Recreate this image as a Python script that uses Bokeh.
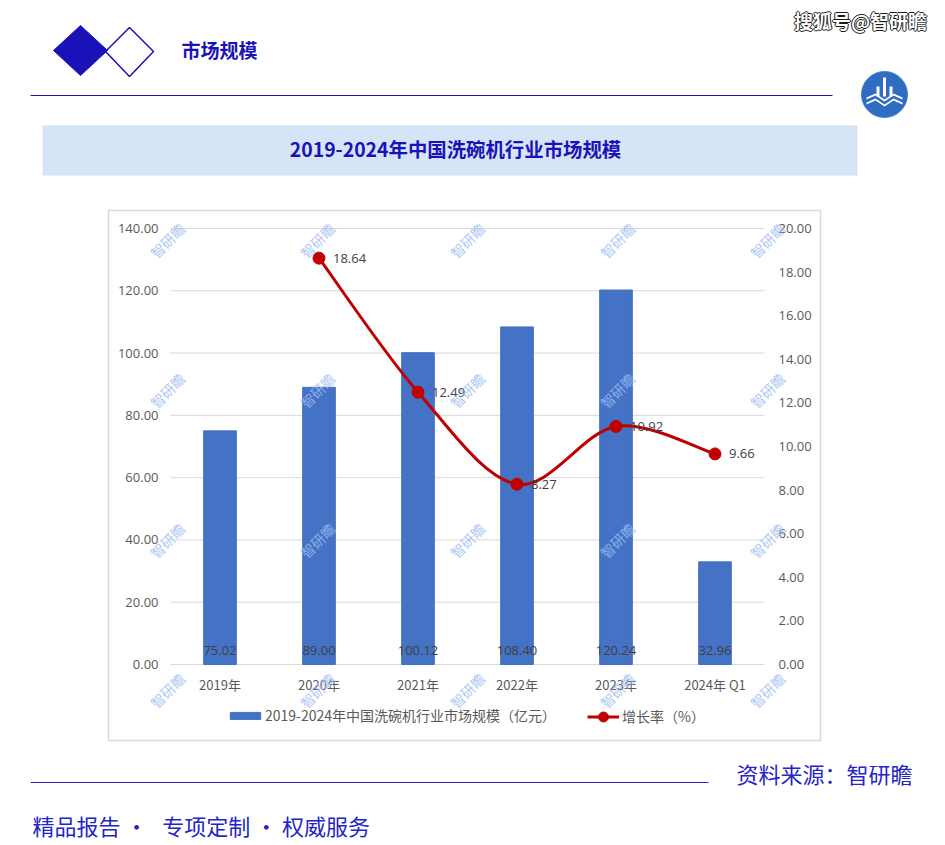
from bokeh.plotting import figure
from bokeh.models import Range1d, ColumnDataSource, Legend, LegendItem
from bokeh.embed import file_html
from bokeh.resources import INLINE
from bokeh.core.properties import value
import math

# ---------------- data ----------------
categories = ["2019年", "2020年", "2021年", "2022年", "2023年", "2024年 Q1"]
market_size = [75.02, 89.00, 100.12, 108.40, 120.24, 32.96]      # 亿元
growth_rate = [None, 18.64, 12.49, 8.27, 10.92, 9.66]             # %
left_ticks = [0, 20, 40, 60, 80, 100, 120, 140]
right_ticks = [0, 2, 4, 6, 8, 10, 12, 14, 16, 18, 20]
bar_series_name = "2019-2024年中国洗碗机行业市场规模（亿元）"
line_series_name = "增长率（%）"
chart_title = "2019-2024年中国洗碗机行业市场规模"
section_title = "市场规模"
source_text = "资料来源：智研瞻"
footer_text = "精品报告 •\u00a0\u00a0 专项定制 • 权威服务"
corner_mark = "搜狐号@智研瞻"
watermark = "智研瞻"

# ---------------- layout constants (page pixels) ----------------
W, H = 945, 845
FL, FT, FR, FB = 170, 228, 764, 664   # plot area edges
CJK = "Noto Sans CJK SC"
NUM = "Open Sans"
BLUE_DARK = "#1a12b8"
BLUE_TXT = "#2424c8"
GRAY_TXT = "#595959"

# whole canvas is the frame; the default ranges are page pixels (y downwards)
p = figure(width=W, height=H, output_backend="svg", toolbar_location=None,
           x_range=Range1d(0, W), y_range=Range1d(H, 0),
           x_axis_type=None, y_axis_type=None, min_border=0)
p.outline_line_color = None
p.background_fill_color = "white"
p.border_fill_color = "white"
p.xgrid.visible = False
p.ygrid.visible = False

# data scales mapped onto the plot area
n_cat = len(categories)
cat_lo, cat_hi = -0.5, n_cat - 0.5
ux = (FR - FL) / (cat_hi - cat_lo)
kv = (FB - FT) / (left_ticks[-1] - left_ticks[0])
kg = (FB - FT) / (right_ticks[-1] - right_ticks[0])
p.extra_x_ranges = {"cat": Range1d(cat_lo - FL / ux, cat_hi + (W - FR) / ux)}
p.extra_y_ranges = {
    "v": Range1d(left_ticks[0] - (H - FB) / kv, left_ticks[-1] + FT / kv),
    "g": Range1d(right_ticks[0] - (H - FB) / kg, right_ticks[-1] + FT / kg),
}
C = dict(x_range_name="cat", y_range_name="v")
G = dict(x_range_name="cat", y_range_name="g")

def txt(X, Y, text, **kw):
    p.text(x=[X], y=[Y], text=[text], **kw)

# chart box
p.quad(left=[108], right=[820], top=[210], bottom=[740], fill_color=None,
       line_color="#d9d9d9", line_width=1.5)

# gridlines + tick labels (through the data scales)
p.segment(x0=[cat_lo] * len(left_ticks), x1=[cat_hi] * len(left_ticks),
          y0=left_ticks, y1=left_ticks, line_color="#d9d9d9", line_width=1, **C)
p.text(x=[cat_lo] * len(left_ticks), y=left_ticks, text=[f"{t:.2f}" for t in left_ticks],
       x_offset=-12, text_align="right", text_baseline="middle", text_font_size="13px",
       text_color=GRAY_TXT, text_font=value(NUM), **C)
p.text(x=[cat_hi] * len(right_ticks), y=right_ticks, text=[f"{t:.2f}" for t in right_ticks],
       x_offset=14, text_align="left", text_baseline="middle", text_font_size="13px",
       text_color=GRAY_TXT, text_font=value(NUM), **G)

# bars
xs = list(range(n_cat))
bar_src = ColumnDataSource(dict(x=xs, top=market_size, base=[0] * n_cat,
                                label=[f"{v:.2f}" for v in market_size], cat=categories))
bars = p.vbar(x="x", top="top", bottom="base", width=0.33, source=bar_src,
              fill_color="#4472c4", line_color="#4472c4", **C)
p.text(x="x", y="base", text="cat", source=bar_src, y_offset=20,
       text_align="center", text_baseline="middle", text_font_size="13px",
       text_color=GRAY_TXT, text_font=value(CJK), **C)
p.text(x="x", y="base", text="label", source=bar_src, y_offset=-14,
       text_align="center", text_baseline="middle", text_font_size="13px",
       text_color="#404040", text_font=value(NUM), **C)

# growth line (smoothed with bezier segments built from the data points)
gx = [x for x, g in zip(xs, growth_rate) if g is not None]
gy = [g for g in growth_rate if g is not None]
n = len(gx)
seg = dict(x0=[], y0=[], x1=[], y1=[], cx0=[], cy0=[], cx1=[], cy1=[])
for i in range(n - 1):
    pm = max(i - 1, 0)
    pp = min(i + 2, n - 1)
    seg["x0"].append(gx[i]); seg["y0"].append(gy[i])
    seg["x1"].append(gx[i + 1]); seg["y1"].append(gy[i + 1])
    seg["cx0"].append(gx[i] + (gx[i + 1] - gx[pm]) / 6)
    seg["cy0"].append(gy[i] + (gy[i + 1] - gy[pm]) / 6)
    seg["cx1"].append(gx[i + 1] - (gx[pp] - gx[i]) / 6)
    seg["cy1"].append(gy[i + 1] - (gy[pp] - gy[i]) / 6)
curve = p.bezier(source=ColumnDataSource(seg), x0="x0", y0="y0", x1="x1", y1="y1",
                 cx0="cx0", cy0="cy0", cx1="cx1", cy1="cy1",
                 line_color="#c00000", line_width=3, **G)
g_src = ColumnDataSource(dict(x=gx, y=gy, label=[f"{v:.2f}" for v in gy]))
pts = p.scatter(x="x", y="y", source=g_src, size=12, fill_color="#c00000",
                line_color="#c00000", **G)
p.text(x="x", y="y", text="label", source=g_src, x_offset=14,
       text_align="left", text_baseline="middle", text_font_size="13px",
       text_color="#404040", text_font=value(NUM), **G)

# legend
legend_style = dict(orientation="horizontal", padding=0, margin=0, border_line_color=None,
                    background_fill_alpha=0, label_text_font=CJK, label_text_font_size="14px",
                    label_text_color=GRAY_TXT)
leg1 = Legend(items=[LegendItem(label=bar_series_name, renderers=[bars])],
              location=(226, H - 725), glyph_width=38, glyph_height=9,
              label_standoff=1, **legend_style)
leg2 = Legend(items=[LegendItem(label=line_series_name, renderers=[curve, pts])],
              location=(587, H - 728.5), glyph_width=32, glyph_height=25,
              label_standoff=3, **legend_style)
p.add_layout(leg1)
p.add_layout(leg2)

# ---------------- page decorations ----------------
# header
p.patch(x=[53, 80, 107, 80], y=[50, 25, 50, 75], fill_color=BLUE_DARK, line_color=BLUE_DARK)
p.patch(x=[105, 129, 153, 129], y=[51, 27, 51, 76], fill_color=None,
        line_color=BLUE_DARK, line_width=1.5)
txt(181, 49, section_title, text_align="left", text_baseline="middle",
    text_font=value(CJK), text_font_size="19px", text_font_style="bold", text_color=BLUE_DARK)
p.segment(x0=[30], x1=[832], y0=[95], y1=[95], line_color=BLUE_DARK, line_width=1)

# logo
p.circle(x=[884], y=[94], radius=23, fill_color="#2e6dc2", line_color="#3d82d4")
p.quad(left=[882.5, 876, 889], right=[885.5, 879, 892], top=[77, 86, 86], bottom=[96, 96, 96],
       fill_color="white", line_color=None)
p.patches(xs=[[866, 875, 884, 893, 902, 902, 893, 884, 875, 866],
              [866, 875, 884, 893, 902, 902, 893, 884, 875, 866]],
          ys=[[97, 93, 99, 93, 97, 99, 95, 101, 95, 99],
              [102, 98, 104, 98, 102, 104, 100, 106, 100, 104]],
          fill_color="white", line_color=None)

# corner mark (white text with dark outline)
for dx, dy in [(-1, 0), (1, 0), (0, -1), (0, 1)]:
    txt(860 + dx, 20 + dy, corner_mark, text_align="center", text_baseline="middle",
        text_font=value(CJK), text_font_size="19px", text_font_style="bold", text_color="#1a1a1a")
txt(860, 20, corner_mark, text_align="center", text_baseline="middle",
    text_font=value(CJK), text_font_size="19px", text_font_style="bold", text_color="white")

# title band
p.quad(left=[42], right=[857], top=[125], bottom=[175], fill_color="#d6e4f8", line_color=None)
txt(455, 148, chart_title, text_align="center", text_baseline="middle",
    text_font=value(CJK), text_font_size="19.4px", text_font_style="bold", text_color=BLUE_DARK)

# footer
p.segment(x0=[30], x1=[708], y0=[782], y1=[782], line_color=BLUE_TXT, line_width=1)
txt(912, 772, source_text, text_align="right", text_baseline="middle",
    text_font=value(CJK), text_font_size="22px", text_color=BLUE_TXT)
txt(32, 824, footer_text, text_align="left", text_baseline="middle",
    text_font=value(CJK), text_font_size="22px", text_color=BLUE_TXT)

# watermarks (on top)
wm_x = [167, 317, 467, 617, 767]
wm_y = [240, 390, 540, 690]
p.text(x=[X for X in wm_x for Y in wm_y], y=[Y for X in wm_x for Y in wm_y],
       text=[watermark] * (len(wm_x) * len(wm_y)), angle=45, angle_units="deg",
       text_align="center", text_baseline="middle", text_font=value(CJK),
       text_font_size="14px", text_color="#9dbcf2", text_alpha=0.85)

open("out.html", "w").write(file_html(p, INLINE))
